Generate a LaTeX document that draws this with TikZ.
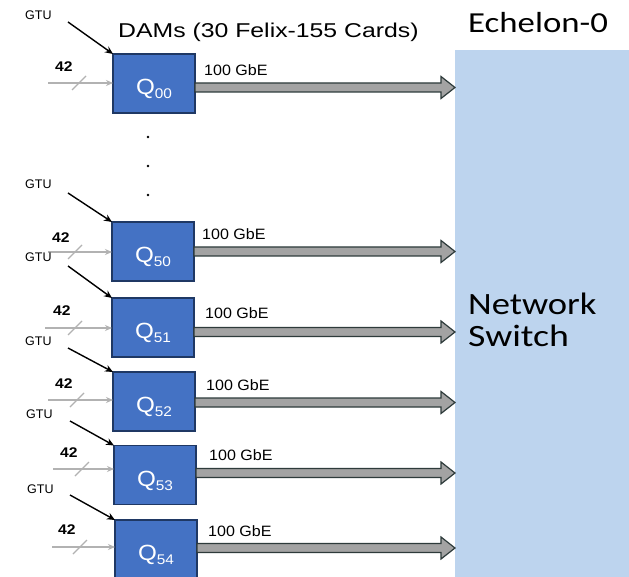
\documentclass[tikz,border=0pt]{standalone}
\usepackage{fontspec}
\setmainfont{Liberation Sans}
\newfontfamily\calibrifont{Carlito}
\usetikzlibrary{arrows.meta,calc}
\definecolor{boxblue}{HTML}{4472C4}
\definecolor{boxedge}{HTML}{1F3864}
\definecolor{switchblue}{HTML}{BDD4EE}
\definecolor{shaftgray}{HTML}{A3A3A3}
\definecolor{shaftedge}{HTML}{2E3B3B}
\definecolor{ingray}{HTML}{B2B2B2}
\newcommand\hs[2]{\scalebox{#1}[1]{#2}}
\begin{document}
\begin{tikzpicture}[x=1pt,y=-1pt,
  qbox/.style={draw=boxedge, line width=1.3pt, fill=boxblue, minimum width=82pt,
    minimum height=59pt, inner sep=0pt, outer sep=0pt, text=white,
    font=\fontsize{22}{22}\selectfont, text height=22pt, text depth=0pt},
  lbl/.style={inner sep=0pt, anchor=base west},
  gtuarr/.style={-{Stealth[length=8pt,width=7pt]}, line width=1.4pt, black},
  inarr/.style={-{Stealth[length=7pt,width=6pt]}, line width=1.3pt, ingray},
  slash/.style={line width=1.2pt, ingray},
  bigarr/.style={draw=shaftedge, line width=1.2pt, fill=shaftgray, line join=miter},
  switchbox/.style={fill=switchblue, draw=none, inner sep=0pt, outer sep=0pt,
    minimum width=174pt, minimum height=527pt, anchor=north west}]
\useasboundingbox (0,0) rectangle (629,577);
\fill[white] (0,0) rectangle (629,577);

% network switch
\node[switchbox] (sw) at (455,50) {};
\node[lbl] (ech) at (468,33) {\calibrifont\fontsize{29}{29}\selectfont\hs{1.2}{Echelon-0}};
\node[lbl] (net) at (468,315) {\calibrifont\fontsize{31}{31}\selectfont\hs{1.18}{Network}};
\node[lbl] (swt) at (468,346) {\calibrifont\fontsize{31}{31}\selectfont\hs{1.22}{Switch}};

% title
\node[lbl] (dams) at (118,38) {\fontsize{20}{20}\selectfont\hs{1.24}{DAMs (30 Felix-155 Cards)}};

% dots
\fill (148,137) circle (1.3);
\fill (148,166) circle (1.3);
\fill (148,195) circle (1.3);

\foreach \nm/\cx/\cy/\ay/\iy/\ix/\sx/\fx/\fb/\gx/\gb/\gsx/\gsy/\lx/\lb in {
  00/154/83.5/87.5/83/48/72/55/72/25/20/68/22/204/76,
  50/153/251.5/251.5/252/48/68/52/243/25/189/68/193/202/240,
  51/153/327.5/332/328/45/68/53/316/25/262/68/266/205/318,
  52/154/401.5/402.5/400/48/70/55/388/25/345/68/348/206/390,
  53/155/475/473/469/53/75/60/457/26/418/70/421/209/460,
  54/156/549.5/548/547/52/73/58/534/27/493/70/495/208/536}
{
  \node[qbox] (q\nm) at (\cx,\cy) {\hs{1.1}{Q\raisebox{-4pt}{\fontsize{14}{14}\selectfont\nm}}};
  % GTU
  \node[lbl] (g\nm) at (\gx,\gb) {\fontsize{12.5}{12.5}\selectfont GTU};
  \coordinate (gs\nm) at (\gsx,\gsy);
  \draw[gtuarr] (gs\nm) -- (q\nm.north west);
  % 42 input
  \node[lbl] (f\nm) at (\fx,\fb) {\fontsize{14}{14}\selectfont\bfseries\hs{1.12}{42}};
  \coordinate (is\nm) at (\ix,\iy);
  \draw[inarr] (is\nm) -- (q\nm.west |- is\nm);
  \draw[slash] (\sx,\iy+7) -- (\sx+14,\iy-7);
  % 100 GbE
  \node[lbl] (l\nm) at (\lx,\lb) {\fontsize{15}{15}\selectfont\hs{1.07}{100 GbE}};
  \coordinate (a\nm) at (q\nm.east |- 0,\ay);
  \coordinate (b\nm) at (sw.west |- 0,\ay);
  \draw[bigarr] ($(a\nm)+(0,-4.5)$) -- ($(b\nm)+(-14,-4.5)$) -- ($(b\nm)+(-14,-11)$)
    -- (b\nm) -- ($(b\nm)+(-14,11)$) -- ($(b\nm)+(-14,4.5)$) -- ($(a\nm)+(0,4.5)$) -- cycle;
}
\end{tikzpicture}
\end{document}
